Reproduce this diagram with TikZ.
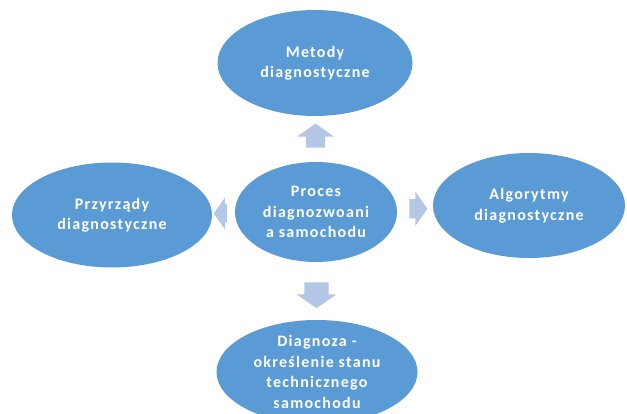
\documentclass[tikz,border=0pt]{standalone}
\usepackage{fontspec}
\setmainfont{Carlito}[LetterSpace=8]
\usetikzlibrary{shapes.geometric,shapes.arrows,calc}
\definecolor{ovalblue}{HTML}{5B9BD5}
\definecolor{arrowblue}{HTML}{B4C7E7}

\begin{document}
\begin{tikzpicture}[x=1pt,y=-1pt]
    \tikzset{
        oval/.style={
            ellipse,
            fill=ovalblue,
            text=white,
            align=center,
            inner xsep=0pt,
            inner ysep=-14pt,
            font=\fontsize{16}{20.5}\selectfont\bfseries
        },
        blockarrow/.style={
            single arrow,
            fill=arrowblue,
            inner xsep=0pt,
            inner ysep=9.5pt,
            single arrow head extend=9pt,
            single arrow tip angle=110
        }
    }
    \useasboundingbox (0,0) rectangle (627,414);
    \clip (0,0) rectangle (627,414);

    \node[oval, minimum width=162pt, minimum height=100pt] (proces) at (316,212)
        {Proces\\diagnozwoani\\a samochodu};
    \node[oval, minimum width=195pt, minimum height=106pt] (metody) at (315,63)
        {Metody\\diagnostyczne};
    \node[oval, minimum width=200pt, minimum height=105pt] (przyrzady) at (112,215)
        {Przyrządy\\diagnostyczne};
    \node[oval, minimum width=192pt, minimum height=105pt] (algorytmy) at (529,205.5)
        {Algorytmy\\diagnostyczne};
    \node[oval, minimum width=201pt, minimum height=104pt] (diagnoza) at (317,372)
        {Diagnoza -\\określenie stanu\\technicznego\\samochodu};

    \node[blockarrow, rotate=90, minimum height=24pt] (arrN)
        at ($(proces.north)!0.5!(metody.south)$) {};
    \node[blockarrow, rotate=-90, minimum height=26pt, inner ysep=12pt,
        single arrow head extend=7.5pt] (arrS)
        at ($(proces.south)!0.5!(diagnoza.north)$) {};
    \node[blockarrow, minimum height=18pt, single arrow head extend=7.5pt] (arrE)
        at ($(proces.east)!0.5!(algorytmy.west)$) {};
    \node[blockarrow, rotate=180, minimum height=13pt, inner ysep=9pt,
        single arrow head extend=7pt] (arrW)
        at ($(proces.west)!0.5!(przyrzady.east)$) {};
\end{tikzpicture}
\end{document}
